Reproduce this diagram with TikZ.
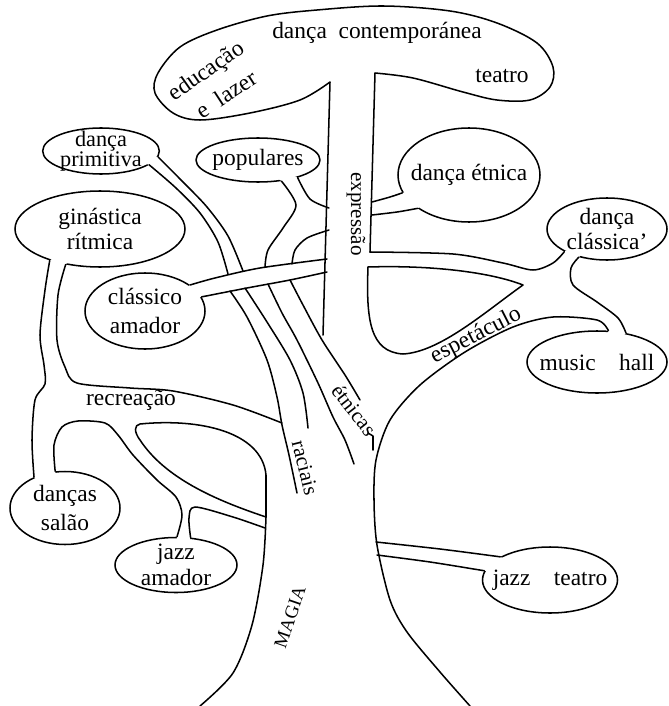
\documentclass[tikz,border=0pt]{standalone}
\usepackage{fontspec}
\setmainfont{Liberation Serif}
\usetikzlibrary{shapes.geometric,calc}

% white patch that opens a bubble where a branch runs into it
\newcommand{\bubblegap}[3]{%
  \fill[white] ($(#1.center)!0.85!(#1.#2)$) -- ($(#1.center)!1.3!(#1.#2)$)
    -- ($(#1.center)!1.3!(#1.#3)$) -- ($(#1.center)!0.85!(#1.#3)$) -- cycle;}

\begin{document}
\begin{tikzpicture}[x=0.03cm,y=-0.03cm,line width=1.3pt,line cap=round,line join=round,
    bubble/.style={draw,ellipse,inner sep=0pt},
    btxt/.style={align=center,inner sep=0pt,font=\fontsize{20}{22}\selectfont},
    lbl/.style={font=\fontsize{20}{22}\selectfont,inner sep=0pt},
    small/.style={font=\fontsize{18}{20}\selectfont}]
\useasboundingbox (0,0) rectangle (668,706);

% bubbles
\node[bubble,minimum width=3.5cm,minimum height=1.38cm] (prim) at (101,151) {};
\node[bubble,minimum width=3.72cm,minimum height=1.32cm] (pop) at (258,160) {};
\node[bubble,minimum width=5.1cm,minimum height=2.28cm] (gin) at (100,229) {};
\node[bubble,minimum width=3.6cm,minimum height=2.28cm] (cls) at (145,311) {};
\node[bubble,minimum width=4.26cm,minimum height=2.82cm] (etn) at (469,175) {};
\node[bubble,minimum width=3.6cm,minimum height=1.86cm] (clq) at (607,229) {};
\node[bubble,minimum width=4.2cm,minimum height=1.86cm] (hall) at (597,362) {};
\node[bubble,minimum width=3.3cm,minimum height=2.19cm] (salao) at (65,508) {};
\node[bubble,minimum width=3.66cm,minimum height=1.65cm] (jzam) at (176,565) {};
\node[bubble,minimum width=4.05cm,minimum height=1.98cm] (jzte) at (550,580) {};

\bubblegap{prim}{-16}{-6}
\bubblegap{pop}{-42}{-24}
\bubblegap{gin}{-148}{-134}
\bubblegap{cls}{14}{30}
\bubblegap{etn}{-165}{-147}
\bubblegap{clq}{-152}{-135}
\bubblegap{hall}{45}{70}
\bubblegap{salao}{105}{135}
\bubblegap{jzam}{62}{88}
\bubblegap{jzte}{155}{172}

\node[btxt,font=\fontsize{19}{16}\selectfont] (prim-t) at (prim) {dança\\primitiva};
\node[btxt] (pop-t) at (pop) {populares};
\node[btxt] (gin-t) at (gin) {ginástica\\rítmica};
\node[btxt,font=\fontsize{20}{25}\selectfont] (cls-t) at (cls) {clássico\\amador};
\node[btxt] (etn-t) at (etn) {dança étnica};
\node[btxt] (clq-t) at (clq) {dança\\clássica'};
\node[btxt] (hall-t) at (hall) {music\quad hall};
\node[btxt,font=\fontsize{20}{24}\selectfont] (salao-t) at (salao) {danças\\salão};
\node[btxt] (jzam-t) at (jzam) {jazz\\amador};
\node[btxt] (jzte-t) at (jzte) {jazz\quad teatro};

% crown and trunk
\draw (323,335) -- (330,82) -- plot[smooth,tension=.55] coordinates {(330,82) (300,100) (250,113)
  (200,120) (173,113) (155,93) (158,73) (180,47) (217,30) (267,16) (317,10) (383,6) (450,11)
  (497,23) (537,43) (553,67) (550,87) (530,100) (497,100) (463,92) (413,78) (375,73)} -- (370,252);

% right side: dança clássica, music hall, espetáculo
\draw plot[smooth] coordinates {(370,252) (453,254) (503,263) (533,270) (553,263) (clq.-152)};
\draw plot[smooth] coordinates {(clq.-135) (571,268) (573,285) (597,302) (618,318) (hall.45)};
\draw (368,267) .. controls (430,265) and (490,272) .. (523,285)
  .. controls (485,312) and (440,352) .. (403,354) .. controls (370,352) and (366,320) .. (368,267);
\draw plot[smooth] coordinates {(hall.70) (597,320) (553,317) (513,327) (465,352) (420,385)
  (390,420) (376,460) (374,500) (377,545) (390,600) (407,632) (440,672) (470,706)};
\draw plot[smooth] coordinates {(372,202) (390,197) (etn.-165)};
\draw plot[smooth] coordinates {(372,215) (397,212) (etn.-147)};
\draw plot[smooth] coordinates {(376,542) (440,549) (jzte.155)};
\draw plot[smooth] coordinates {(377,555) (430,562) (jzte.172)};

% populares, primitiva, clássico amador
\draw plot[smooth] coordinates {(pop.-42) (296,205) (283,228) (268,250) (265,267)};
\draw plot[smooth] coordinates {(pop.-24) (310,199) (329,208)};
\draw plot[smooth] coordinates {(329,230) (307,238) (295,250) (292,264)};
\draw plot[smooth] coordinates {(prim.-16) (176,188) (200,213) (218,242) (228,274)};
\draw plot[smooth] coordinates {(prim.-6) (183,182) (207,207) (228,236) (243,271)};
\draw plot[smooth] coordinates {(cls.30) (215,278) (260,268) (327,259)};
\draw plot[smooth] coordinates {(cls.14) (247,288) (290,280) (327,272)};

% raciais / étnicas roots
\draw plot[smooth] coordinates {(230,291) (247,317) (267,360) (277,397) (282,425) (289,455) (297,493)};
\draw plot[smooth] coordinates {(245,288) (267,322) (290,360) (303,393) (308,428)};
\draw plot[smooth] coordinates {(268,284) (282,313) (297,340) (318,383) (333,417) (345,440) (354,464)};
\draw plot[smooth] coordinates {(290,280) (303,305) (322,340) (345,375) (360,400)};
\draw (368,433) -- (373,436) -- (373,450);

% left side: ginástica, recreação, salão, jazz amador
\draw plot[smooth] coordinates {(gin.-148) (45,290) (40,335) (44,365) (45,384) (35,400) (32,440) (salao.135)};
\draw plot[smooth] coordinates {(gin.-134) (58,295) (57,340) (65,367) (77,383) (130,388) (173,391) (233,405) (282,423)};
\draw plot[smooth] coordinates {(salao.105) (54,445) (62,427) (78,421) (105,423) (118,435) (133,455)
  (157,480) (176,497) (182,515) (jzam.88)};
\draw plot[smooth] coordinates {(jzam.62) (189,518) (195,507) (233,517) (265,528)};
\draw (140,424) .. controls (200,418) and (262,432) .. (266,475) -- (266,517)
  .. controls (215,500) and (165,478) .. (140,440) .. controls (134,432) and (134,425) .. (140,424) -- cycle;
\draw plot[smooth] coordinates {(266,517) (263,565) (252,625) (233,673) (200,706)};

% words along the branches
\node[lbl] (t-danca) at (377,33) {dança\enspace contemporánea};
\node[lbl] (t-teatro) at (502,76) {teatro};
\node[lbl,rotate=35] (t-educ) at (207,72) {educação};
\node[lbl,rotate=33] (t-lazer) at (226,94) {e\enspace lazer};
\node[lbl,small,rotate=-90] (t-expr) at (356,214) {expressão};
\node[lbl,rotate=27] (t-espet) at (476,336) {espetáculo};
\node[lbl,small,rotate=-52] (t-etn) at (354,410) {étnicas};
\node[lbl,small,rotate=-76] (t-rac) at (305,468) {raciais};
\node[lbl] (t-recr) at (131,400) {recreação};
\node[lbl,font=\fontsize{16}{18}\selectfont,rotate=71] (t-magia) at (290,617) {MAGIA};
\end{tikzpicture}
\end{document}
